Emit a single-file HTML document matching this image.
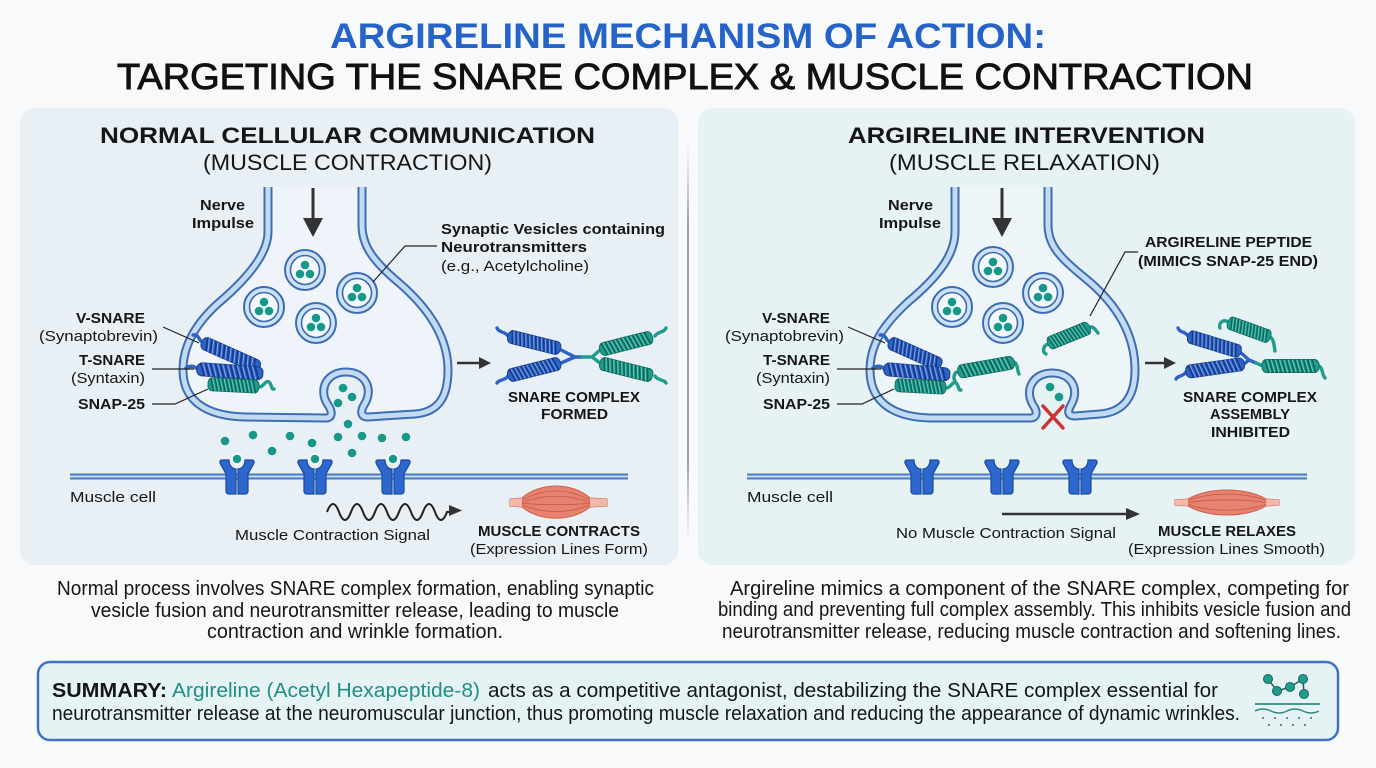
<!DOCTYPE html>
<html><head><meta charset="utf-8"><style>
html,body{margin:0;padding:0;background:#f7f9fb;}
svg{display:block;}
text{font-family:"Liberation Sans",sans-serif;fill:#161616;}
.b{font-weight:bold;}
</style></head><body>
<svg width="1376" height="768" viewBox="0 0 1376 768" xmlns="http://www.w3.org/2000/svg">
<defs>
<linearGradient id="dv" x1="0" y1="0" x2="0" y2="1"><stop offset="0" stop-color="#c8ccd2" stop-opacity="0"/><stop offset="0.2" stop-color="#9aa0a8"/><stop offset="0.8" stop-color="#9aa0a8"/><stop offset="1" stop-color="#c8ccd2" stop-opacity="0"/></linearGradient>
<g id="hb"><rect x="0" y="-6.5" width="60" height="13" rx="5" fill="#2d62c6" stroke="#1a418f" stroke-width="1"/><path d="M3,-6.5l4,13M7.5,-6.5l4,13M12,-6.5l4,13M16.5,-6.5l4,13M21,-6.5l4,13M25.5,-6.5l4,13M30,-6.5l4,13M34.5,-6.5l4,13M39,-6.5l4,13M43.5,-6.5l4,13M48,-6.5l4,13M52.5,-6.5l4,13" stroke="#163a85" stroke-width="1.6"/><path d="M5,-6.5l4,13M9.5,-6.5l4,13M14,-6.5l4,13M18.5,-6.5l4,13M23,-6.5l4,13M27.5,-6.5l4,13M32,-6.5l4,13M36.5,-6.5l4,13M41,-6.5l4,13M45.5,-6.5l4,13M50,-6.5l4,13" stroke="#82aaee" stroke-width="0.9"/></g>
<g id="hg"><rect x="0" y="-6.5" width="60" height="13" rx="5" fill="#1f9c8c" stroke="#0f6b60" stroke-width="1"/><path d="M3,-6.5l4,13M7.5,-6.5l4,13M12,-6.5l4,13M16.5,-6.5l4,13M21,-6.5l4,13M25.5,-6.5l4,13M30,-6.5l4,13M34.5,-6.5l4,13M39,-6.5l4,13M43.5,-6.5l4,13M48,-6.5l4,13M52.5,-6.5l4,13" stroke="#0d6359" stroke-width="1.6"/><path d="M5,-6.5l4,13M9.5,-6.5l4,13M14,-6.5l4,13M18.5,-6.5l4,13M23,-6.5l4,13M27.5,-6.5l4,13M32,-6.5l4,13M36.5,-6.5l4,13M41,-6.5l4,13M45.5,-6.5l4,13M50,-6.5l4,13" stroke="#6fd0c0" stroke-width="0.9"/></g>
<g id="ves"><circle r="20" fill="#cfe2f5" stroke="#3b6db5" stroke-width="2"/><circle r="14.5" fill="#f3f8fc" stroke="#3b6db5" stroke-width="1.6"/><circle cx="0" cy="-5" r="4.3" fill="#16998a"/><circle cx="-5" cy="4" r="4.3" fill="#16998a"/><circle cx="5" cy="4" r="4.3" fill="#16998a"/></g>
<g id="rec"><path d="M-1,-8 C-5,-8 -8,-12 -8,-17 L-15,-17 C-17,-17 -18,-15 -16,-12 L-11,-3 L-11,14 C-11,16 -10,17 -8,17 L-1,17 Z" fill="#2b67cc" stroke="#1b4b9f" stroke-width="1.2"/><path d="M1,-8 C5,-8 8,-12 8,-17 L15,-17 C17,-17 18,-15 16,-12 L11,-3 L11,14 C11,16 10,17 8,17 L1,17 Z" fill="#2b67cc" stroke="#1b4b9f" stroke-width="1.2"/></g>
</defs>

<!-- Title -->
<text x="330" y="48" class="b" font-size="35" textLength="716" lengthAdjust="spacingAndGlyphs" style="fill:#2563c9">ARGIRELINE MECHANISM OF ACTION:</text>
<text x="117" y="89" font-size="36" textLength="1136" lengthAdjust="spacingAndGlyphs" style="fill:#111;stroke:#111;stroke-width:0.9">TARGETING THE SNARE COMPLEX &amp; MUSCLE CONTRACTION</text>

<!-- Panels -->
<rect x="20" y="108" width="658" height="457" rx="15" fill="#e8eff5"/>
<rect x="698" y="108" width="657" height="457" rx="15" fill="#e7f2f4"/>
<rect x="687" y="140" width="2" height="405" fill="url(#dv)"/>

<text x="100" y="143" class="b" font-size="22" textLength="495" lengthAdjust="spacingAndGlyphs">NORMAL CELLULAR COMMUNICATION</text>
<text x="203" y="170" font-size="22" textLength="289" lengthAdjust="spacingAndGlyphs">(MUSCLE CONTRACTION)</text>
<text x="848" y="143" class="b" font-size="22" textLength="357" lengthAdjust="spacingAndGlyphs">ARGIRELINE INTERVENTION</text>
<text x="889" y="170" font-size="22" textLength="271" lengthAdjust="spacingAndGlyphs">(MUSCLE RELAXATION)</text>

<!-- ===== LEFT DIAGRAM ===== -->
<path d="M268,187 L268,232 C268,255 245,280 222,300 C196,322 183,345 183,370 C183,400 205,416 245,417 L326,418 C332,418 333,412 328,405 C318,390 326,372 346,372 C366,372 374,390 364,405 C360,412 361,417 368,417 L415,414 C440,412 448,395 448,370 C448,335 425,305 398,282 C372,260 362,245 362,225 L362,187" fill="#eef4f9" stroke="#3d6eb4" stroke-width="9" stroke-linejoin="round"/>
<path d="M268,187 L268,232 C268,255 245,280 222,300 C196,322 183,345 183,370 C183,400 205,416 245,417 L326,418 C332,418 333,412 328,405 C318,390 326,372 346,372 C366,372 374,390 364,405 C360,412 361,417 368,417 L415,414 C440,412 448,395 448,370 C448,335 425,305 398,282 C372,260 362,245 362,225 L362,187" fill="none" stroke="#c3dbf2" stroke-width="5" stroke-linejoin="round"/>
<line x1="313" y1="188" x2="313" y2="222" stroke="#333" stroke-width="3"/>
<polygon points="303,218 323,218 313,237" fill="#333"/>
<text x="200" y="210" class="b" font-size="15" textLength="45" lengthAdjust="spacingAndGlyphs">Nerve</text>
<text x="192" y="228" class="b" font-size="15" textLength="62" lengthAdjust="spacingAndGlyphs">Impulse</text>
<use href="#ves" x="305" y="270"/><use href="#ves" x="357" y="293"/><use href="#ves" x="264" y="307"/><use href="#ves" x="316" y="323"/>
<circle cx="343" cy="388" r="4.3" fill="#16998a"/><circle cx="352" cy="397" r="4.3" fill="#16998a"/><circle cx="338" cy="403" r="4.3" fill="#16998a"/>
<g fill="#16998a"><circle cx="348" cy="424" r="4.3"/><circle cx="225" cy="441" r="4.3"/><circle cx="253" cy="435" r="4.3"/><circle cx="290" cy="436" r="4.3"/><circle cx="272" cy="451" r="4.3"/><circle cx="312" cy="443" r="4.3"/><circle cx="338" cy="437" r="4.3"/><circle cx="362" cy="436" r="4.3"/><circle cx="352" cy="453" r="4.3"/><circle cx="382" cy="438" r="4.3"/><circle cx="406" cy="437" r="4.3"/></g>
<polyline points="373,282 405,246 437,246" fill="none" stroke="#222" stroke-width="1.2"/>
<text x="441" y="234" class="b" font-size="15" textLength="224" lengthAdjust="spacingAndGlyphs">Synaptic Vesicles containing</text>
<text x="441" y="252" class="b" font-size="15" textLength="146" lengthAdjust="spacingAndGlyphs">Neurotransmitters</text>
<text x="441" y="271" font-size="15" textLength="148" lengthAdjust="spacingAndGlyphs">(e.g., Acetylcholine)</text>
<g fill="none" stroke-linecap="round" stroke-width="3.4">
<path d="M202,342 c-4,-3 -3,-8 -9,-7" stroke="#2d62c6"/>
<path d="M197,369 c-3,-4 -8,-3 -11,-1" stroke="#2d62c6"/>
<path d="M259,387 c5,0 6,-7 10,-5 c3,2 2,8 5,7" stroke="#1f9c8c"/>
</g>
<use href="#hb" transform="translate(202,342) rotate(24) scale(1.05,1)"/>
<use href="#hb" transform="translate(197,369) rotate(4) scale(1.1,1)"/>
<use href="#hg" transform="translate(208,384) rotate(3) scale(0.85,1)"/>
<text x="76" y="323" class="b" font-size="15" textLength="69" lengthAdjust="spacingAndGlyphs">V-SNARE</text>
<text x="39" y="341" font-size="15" textLength="119" lengthAdjust="spacingAndGlyphs">(Synaptobrevin)</text>
<text x="79" y="365" class="b" font-size="15" textLength="66" lengthAdjust="spacingAndGlyphs">T-SNARE</text>
<text x="71" y="383" font-size="15" textLength="74" lengthAdjust="spacingAndGlyphs">(Syntaxin)</text>
<text x="78" y="409" class="b" font-size="15" textLength="67" lengthAdjust="spacingAndGlyphs">SNAP-25</text>
<g stroke="#222" stroke-width="1.2" fill="none">
<line x1="163" y1="327" x2="199" y2="343"/>
<line x1="152" y1="369" x2="194" y2="369"/>
<path d="M152,404 L175,404 L208,389"/>
</g>
<line x1="457" y1="363" x2="481" y2="363" stroke="#333" stroke-width="2.5"/>
<polygon points="479,357 491,363 479,369" fill="#333"/>
<g fill="none" stroke-linecap="round" stroke-width="3.4">
<path d="M508,336 c-3,-5 -9,-3 -11,-8" stroke="#2d62c6"/>
<path d="M508,376 c-3,5 -9,3 -11,7" stroke="#2d62c6"/>
<path d="M561,350 L575,357 L561,363 M575,357 L582,357" stroke="#2d62c6"/>
<path d="M582,357 L592,357 M592,357 L600,350 M592,357 L600,363" stroke="#1f9c8c"/>
<path d="M655,336 c3,-5 9,-3 11,-8" stroke="#1f9c8c"/>
<path d="M655,376 c3,5 9,3 11,7" stroke="#1f9c8c"/>
</g>
<use href="#hb" transform="translate(508,336) rotate(14) scale(0.9,1)"/>
<use href="#hb" transform="translate(508,376) rotate(-14) scale(0.9,1)"/>
<use href="#hg" transform="translate(600,350) rotate(-14) scale(0.9,1)"/>
<use href="#hg" transform="translate(600,363) rotate(14) scale(0.9,1)"/>
<text x="508" y="402" class="b" font-size="15" textLength="132" lengthAdjust="spacingAndGlyphs">SNARE COMPLEX</text>
<text x="541" y="419" class="b" font-size="15" textLength="67" lengthAdjust="spacingAndGlyphs">FORMED</text>
<line x1="70" y1="476.5" x2="628" y2="476.5" stroke="#4a7cc0" stroke-width="6"/>
<line x1="70" y1="476.5" x2="628" y2="476.5" stroke="#c6dcf2" stroke-width="2"/>
<use href="#rec" x="237" y="477"/><use href="#rec" x="315" y="477"/><use href="#rec" x="393" y="477"/>
<g fill="#16998a" stroke="#fff" stroke-width="1.5"><circle cx="237" cy="459" r="5"/><circle cx="315" cy="459" r="5"/><circle cx="393" cy="459" r="5"/></g>
<text x="70" y="502" font-size="15" textLength="86" lengthAdjust="spacingAndGlyphs">Muscle cell</text>
<path d="M327,512 q6,-16 12,0 t12,0 t12,0 t12,0 t12,0 t12,0 t12,0 t12,0 t12,0 t12,0 l4,0" fill="none" stroke="#222" stroke-width="2"/>
<polygon points="449,505 462,510.5 449,516" fill="#333"/>
<text x="235" y="540" font-size="15" textLength="195" lengthAdjust="spacingAndGlyphs">Muscle Contraction Signal</text>
<path d="M510,499 L522,498 C540,482 572,482 590,498 L607,499 L607,506 L590,507 C572,522 540,522 522,507 L510,506 Z" fill="#e8826f" stroke="#c8604d" stroke-width="1"/>
<path d="M510,499 L522,498 L522,507 L510,506 Z M590,498 L607,499 L607,506 L590,507 Z" fill="#f3b8aa"/>
<g fill="none" stroke="#bf5845" stroke-width="0.8"><path d="M522,500 C545,488 567,488 590,500"/><path d="M522,502.5 C545,494 567,494 590,502.5"/><path d="M522,505 C545,514 567,514 590,505"/><path d="M522,503.5 C545,505 567,505 590,503.5"/></g>
<text x="478" y="536" class="b" font-size="15" textLength="162" lengthAdjust="spacingAndGlyphs">MUSCLE CONTRACTS</text>
<text x="470" y="554" font-size="15" textLength="178" lengthAdjust="spacingAndGlyphs">(Expression Lines Form)</text>

<!-- ===== RIGHT DIAGRAM ===== -->
<path d="M955,187 L955,232 C955,258 932,282 908,302 C883,325 870,345 870,370 C870,402 893,417 930,418 L1030,418 C1037,418 1038,412 1033,405 C1024,390 1033,373 1052,373 C1072,373 1080,390 1071,405 C1067,412 1068,416 1075,416 L1100,414 C1125,412 1135,395 1135,370 C1135,330 1112,300 1085,278 C1060,258 1048,245 1048,225 L1048,187" fill="#eef5f8" stroke="#3d6eb4" stroke-width="9" stroke-linejoin="round"/>
<path d="M955,187 L955,232 C955,258 932,282 908,302 C883,325 870,345 870,370 C870,402 893,417 930,418 L1030,418 C1037,418 1038,412 1033,405 C1024,390 1033,373 1052,373 C1072,373 1080,390 1071,405 C1067,412 1068,416 1075,416 L1100,414 C1125,412 1135,395 1135,370 C1135,330 1112,300 1085,278 C1060,258 1048,245 1048,225 L1048,187" fill="none" stroke="#c3dbf2" stroke-width="5" stroke-linejoin="round"/>
<line x1="1002" y1="188" x2="1002" y2="222" stroke="#333" stroke-width="3"/>
<polygon points="992,218 1012,218 1002,237" fill="#333"/>
<text x="888" y="210" class="b" font-size="15" textLength="45" lengthAdjust="spacingAndGlyphs">Nerve</text>
<text x="879" y="228" class="b" font-size="15" textLength="62" lengthAdjust="spacingAndGlyphs">Impulse</text>
<use href="#ves" x="993" y="267"/><use href="#ves" x="1043" y="293"/><use href="#ves" x="952" y="307"/><use href="#ves" x="1003" y="323"/>
<circle cx="1050" cy="387" r="4.3" fill="#16998a"/><circle cx="1059" cy="397" r="4.3" fill="#16998a"/>
<g stroke="#cc3333" stroke-width="3.5" stroke-linecap="round"><line x1="1043" y1="406" x2="1063" y2="428"/><line x1="1063" y1="406" x2="1043" y2="428"/></g>
<g fill="none" stroke-linecap="round" stroke-width="3.4">
<path d="M889,342 c-4,-3 -3,-8 -9,-7" stroke="#2d62c6"/>
<path d="M884,369 c-3,-4 -8,-3 -11,-1" stroke="#2d62c6"/>
<path d="M946,388 c5,0 6,-7 10,-5 c3,2 2,8 5,7" stroke="#1f9c8c"/>
<path d="M958,372 c-4,0 -5,6 -3,9" stroke="#1f9c8c"/>
<path d="M1014,362 c4,2 3,8 5,12" stroke="#1f9c8c"/>
<path d="M1048,344 c-5,2 -6,8 -2,10" stroke="#1f9c8c"/>
<path d="M1090,327 c4,-1 6,4 8,6" stroke="#1f9c8c"/>
</g>
<use href="#hb" transform="translate(889,342) rotate(24) scale(0.95,1)"/>
<use href="#hb" transform="translate(884,369) rotate(5) scale(1.1,1)"/>
<use href="#hg" transform="translate(895,385) rotate(3) scale(0.85,1)"/>
<use href="#hg" transform="translate(958,372) rotate(-10) scale(0.95,1)"/>
<use href="#hg" transform="translate(1048,344) rotate(-22) scale(0.75,1)"/>
<text x="762" y="323" class="b" font-size="15" textLength="68" lengthAdjust="spacingAndGlyphs">V-SNARE</text>
<text x="725" y="341" font-size="15" textLength="119" lengthAdjust="spacingAndGlyphs">(Synaptobrevin)</text>
<text x="763" y="365" class="b" font-size="15" textLength="67" lengthAdjust="spacingAndGlyphs">T-SNARE</text>
<text x="756" y="383" font-size="15" textLength="74" lengthAdjust="spacingAndGlyphs">(Syntaxin)</text>
<text x="763" y="409" class="b" font-size="15" textLength="67" lengthAdjust="spacingAndGlyphs">SNAP-25</text>
<g stroke="#222" stroke-width="1.2" fill="none">
<line x1="848" y1="327" x2="885" y2="343"/>
<line x1="837" y1="369" x2="881" y2="369"/>
<path d="M837,404 L862,404 L894,389"/>
<polyline points="1138,252 1125,252 1090,316"/>
</g>
<text x="1145" y="247" class="b" font-size="15" textLength="167" lengthAdjust="spacingAndGlyphs">ARGIRELINE PEPTIDE</text>
<text x="1138" y="266" class="b" font-size="15" textLength="180" lengthAdjust="spacingAndGlyphs">(MIMICS SNAP-25 END)</text>
<line x1="1145" y1="363" x2="1166" y2="363" stroke="#333" stroke-width="2.5"/>
<polygon points="1164,357 1176,363 1164,369" fill="#333"/>
<g fill="none" stroke-linecap="round" stroke-width="3.4">
<path d="M1188,336 c-3,-5 -8,-3 -10,-8" stroke="#2d62c6"/>
<path d="M1186,372 c-3,5 -8,3 -10,7" stroke="#2d62c6"/>
<path d="M1240,352 L1249,360 L1244,364 M1249,360 L1256,363" stroke="#2d62c6"/>
<path d="M1256,363 L1263,366" stroke="#1f9c8c"/>
<path d="M1319,366 c4,2 3,9 6,12" stroke="#1f9c8c"/>
<path d="M1228,322 c-5,-4 -10,2 -8,6" stroke="#1f9c8c"/>
<path d="M1270,337 c4,2 4,9 5,14" stroke="#1f9c8c"/>
</g>
<use href="#hb" transform="translate(1188,336) rotate(17) scale(0.92,1)"/>
<use href="#hb" transform="translate(1186,372) rotate(-8) scale(0.98,1)"/>
<use href="#hg" transform="translate(1262,366) scale(0.95,1)"/>
<use href="#hg" transform="translate(1228,322) rotate(20) scale(0.75,1)"/>
<text x="1183" y="402" class="b" font-size="15" textLength="134" lengthAdjust="spacingAndGlyphs">SNARE COMPLEX</text>
<text x="1210" y="419" class="b" font-size="15" textLength="80" lengthAdjust="spacingAndGlyphs">ASSEMBLY</text>
<text x="1211" y="437" class="b" font-size="15" textLength="79" lengthAdjust="spacingAndGlyphs">INHIBITED</text>
<line x1="747" y1="476.5" x2="1307" y2="476.5" stroke="#4a7cc0" stroke-width="6"/>
<line x1="747" y1="476.5" x2="1307" y2="476.5" stroke="#c6dcf2" stroke-width="2"/>
<use href="#rec" x="922" y="477"/><use href="#rec" x="1002" y="477"/><use href="#rec" x="1080" y="477"/>
<text x="747" y="502" font-size="15" textLength="86" lengthAdjust="spacingAndGlyphs">Muscle cell</text>
<line x1="1002" y1="514" x2="1128" y2="514" stroke="#333" stroke-width="2.5"/>
<polygon points="1126,508 1140,514 1126,520" fill="#333"/>
<text x="896" y="538" font-size="15" textLength="220" lengthAdjust="spacingAndGlyphs">No Muscle Contraction Signal</text>
<path d="M1175,500 L1188,499 C1208,487 1246,487 1266,499 L1279,500 L1279,505 L1266,506 C1246,518 1208,518 1188,506 L1175,505 Z" fill="#e8826f" stroke="#c8604d" stroke-width="1"/>
<path d="M1175,500 L1188,499 L1188,506 L1175,505 Z M1266,499 L1279,500 L1279,505 L1266,506 Z" fill="#f3b8aa"/>
<g fill="none" stroke="#bf5845" stroke-width="0.8"><path d="M1188,500.5 C1210,492 1244,492 1266,500.5"/><path d="M1188,502.5 C1210,499 1244,499 1266,502.5"/><path d="M1188,504.5 C1210,512 1244,512 1266,504.5"/></g>
<text x="1158" y="536" class="b" font-size="15" textLength="138" lengthAdjust="spacingAndGlyphs">MUSCLE RELAXES</text>
<text x="1128" y="554" font-size="15" textLength="197" lengthAdjust="spacingAndGlyphs">(Expression Lines Smooth)</text>

<!-- Captions -->
<text x="57" y="595" font-size="20" textLength="597" lengthAdjust="spacingAndGlyphs">Normal process involves SNARE complex formation, enabling synaptic</text>
<text x="91" y="617" font-size="20" textLength="528" lengthAdjust="spacingAndGlyphs">vesicle fusion and neurotransmitter release, leading to muscle</text>
<text x="207" y="638" font-size="20" textLength="296" lengthAdjust="spacingAndGlyphs">contraction and wrinkle formation.</text>
<text x="730" y="595" font-size="20" textLength="619" lengthAdjust="spacingAndGlyphs">Argireline mimics a component of the SNARE complex, competing for</text>
<text x="718" y="616" font-size="20" textLength="633" lengthAdjust="spacingAndGlyphs">binding and preventing full complex assembly. This inhibits vesicle fusion and</text>
<text x="722" y="638" font-size="20" textLength="619" lengthAdjust="spacingAndGlyphs">neurotransmitter release, reducing muscle contraction and softening lines.</text>

<!-- Summary -->
<rect x="38" y="662" width="1300" height="78" rx="12" fill="#e6f3f5" stroke="#3e72c4" stroke-width="2.5"/>
<text x="52" y="697" class="b" font-size="20" textLength="115" lengthAdjust="spacingAndGlyphs">SUMMARY:</text>
<text x="172" y="697" font-size="20" textLength="308" lengthAdjust="spacingAndGlyphs" style="fill:#1f8f86">Argireline (Acetyl Hexapeptide-8)</text>
<text x="488" y="697" font-size="20" textLength="730" lengthAdjust="spacingAndGlyphs">acts as a competitive antagonist, destabilizing the SNARE complex essential for</text>
<text x="52" y="720" font-size="20" textLength="1188" lengthAdjust="spacingAndGlyphs">neurotransmitter release at the neuromuscular junction, thus promoting muscle relaxation and reducing the appearance of dynamic wrinkles.</text>
<g stroke="#1d5f58" stroke-width="1.5"><polyline points="1268,679 1277,691 1290,687 1303,679 1304,694" fill="none"/></g>
<g fill="#1f9c8c" stroke="#14645b" stroke-width="1"><circle cx="1268" cy="679" r="4.5"/><circle cx="1277" cy="691" r="4.5"/><circle cx="1290" cy="687" r="4.5"/><circle cx="1303" cy="679" r="4.5"/><circle cx="1304" cy="694" r="4.5"/></g>
<line x1="1255" y1="704" x2="1320" y2="704" stroke="#2a8a80" stroke-width="1.8"/>
<path d="M1255,711 q8,-4 16,0 t16,0 t16,0 t16,0" fill="none" stroke="#2a8a80" stroke-width="1.5"/>
<g fill="#3a6e78"><circle cx="1263" cy="718" r="1"/><circle cx="1275" cy="718" r="1"/><circle cx="1287" cy="718" r="1"/><circle cx="1299" cy="718" r="1"/><circle cx="1311" cy="718" r="1"/><circle cx="1269" cy="725" r="1"/><circle cx="1281" cy="725" r="1"/><circle cx="1293" cy="725" r="1"/><circle cx="1305" cy="725" r="1"/></g>
</svg>
</body></html>
